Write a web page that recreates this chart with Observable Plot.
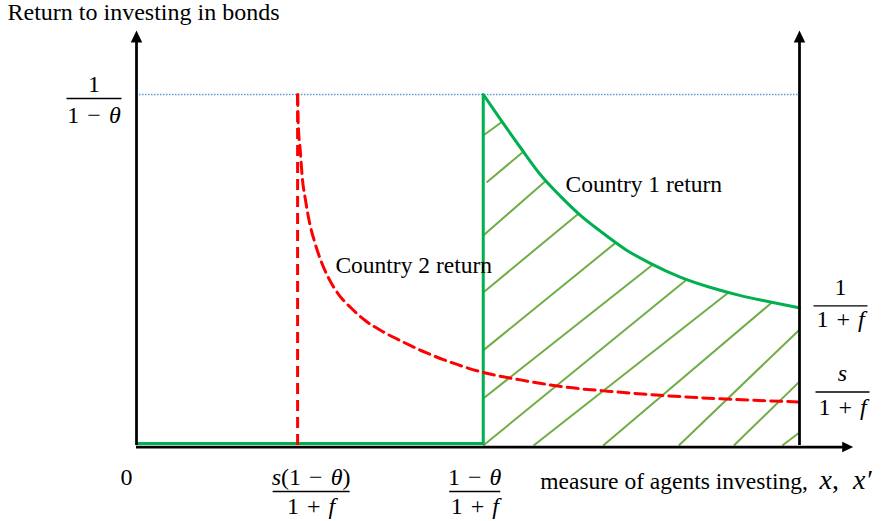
<!DOCTYPE html>
<html>
<head>
<meta charset="utf-8">
<script src="https://cdn.jsdelivr.net/npm/d3@7"></script>
<script src="https://cdn.jsdelivr.net/npm/@observablehq/plot@0.6"></script>
<style>
  html, body { margin: 0; padding: 0; background: #ffffff; }
  #chart svg { display: block; }
</style>
</head>
<body>
<div id="chart"></div>
<script>
// ---------------- DATA (x: 0 = vertical axis, 100 = right axis; y: 0 = horizontal axis, 100 = 1/(1−θ)) ----------------
const topLevel = 100;        // 1/(1−θ)
const country1End = 39.2;    // 1/(1+f)
const country2End = 12.4;    // s/(1+f)
const cutoff2 = 24.3;        // s(1−θ)/(1+f)
const cutoff1 = 52.3;        // (1−θ)/(1+f)
const xMax = 100;            // right-hand axis
const xArrow = 108.1;        // end of horizontal axis arrow
const yArrow = 118.2;        // end of vertical axes arrows

const country1X = [52.3, 54.9, 57.9, 60.9, 64.0, 67.0, 70.0, 73.8, 77.5, 82.1, 86.6, 91.1, 95.6, 100];
const country1Y = [100, 92.9, 84.9, 77.2, 70.9, 65.5, 61.0, 55.8, 51.9, 47.9, 45.0, 42.7, 40.9, 39.2];

const country2X = [24.3, 24.4, 24.7, 25.0, 25.5, 26.1, 26.9, 27.8, 29.0, 30.5, 32.3, 34.5, 37.1, 40.1, 43.6, 47.4, 52.3, 57.9, 64.0, 71.5, 79.0, 88.1, 100];
const country2Y = [100, 91.2, 84.1, 76.4, 69.8, 63.5, 57.8, 52.7, 47.6, 43.0, 39.3, 35.6, 32.5, 29.6, 26.5, 23.7, 20.8, 18.7, 16.8, 15.4, 14.3, 13.3, 12.4];

const hatchX1 = [52.3, 52.8, 52.3, 52.3, 52.3, 52.3, 52.3, 59.9, 70.4, 81.8, 90.1, 97.4];
const hatchY1 = [88.3, 74.9, 59.8, 43.6, 27.1, 13.4, 0, 0, 0, 0, 0, 0];
const hatchX2 = [55.2, 58.2, 61.8, 66.7, 72.3, 77.8, 83.0, 89.3, 95.8, 100, 100, 100];
const hatchY2 = [92.3, 83.5, 75.5, 66.1, 57.8, 51.4, 47.3, 43.6, 40.7, 33.0, 18.2, 3.7];

const titleText = "Return to investing in bonds";
const xAxisText = "measure of agents investing, x, x′";
const country1Label = "Country 1 return";
const country2Label = "Country 2 return";

const leftTickValues = [topLevel];
const leftTickNum = ["1"];
const leftTickDen = ["1\u2004−\u2004θ"];
const rightTickValues = [country1End, country2End];
const rightTickNum = ["1", "s"];
const rightTickDen = ["1\u2004+\u2004f", "1\u2004+\u2004f"];
const bottomTickValues = [cutoff2, cutoff1];
const bottomTickNum = ["s(1\u2004−\u2004θ)", "1\u2004−\u2004θ"];
const bottomTickDen = ["1\u2004+\u2004f", "1\u2004+\u2004f"];
const zeroLabel = "0";

// ---------------- STYLE / LAYOUT ----------------
const GREEN = "#00B050", HATCH = "#70AD47", RED = "#FF0000", BLUE = "#5B9BD5";
const SERIF = "'Liberation Serif', 'Times New Roman', serif";
const MATH = "'Cambria Math', 'Liberation Serif', serif";

const hbar = {draw(ctx, size) { const r = Math.sqrt(size / Math.PI); ctx.moveTo(-r, 0); ctx.lineTo(r, 0); }};
const head = {draw(ctx, size) { const r = Math.sqrt(size / Math.PI);
  ctx.moveTo(0, 0); ctx.lineTo(r * 0.48, r); ctx.lineTo(-r * 0.48, r); ctx.closePath(); }};

// fraction label: anchored at (x, y) data point, offsets in px
function fraction(x, y, num, den, {dx = 0, dy = 0, width = 50, size = 24, numDy = -15, denDy = 15} = {}) {
  const at = {x: () => x, y: () => y};
  return [
    Plot.dot([0], {...at, r: width / 2, symbol: hbar, stroke: "black", strokeWidth: 1.3, fill: "none", dx, dy}),
    Plot.text([num], {...at, text: d => d, dx, dy: dy + numDy, fontFamily: MATH, fontSize: size, fill: "black"}),
    Plot.text([den], {...at, text: d => d, dx, dy: dy + denDy, fontFamily: MATH, fontSize: size, fill: "black"})
  ];
}

const idx = d3.range(hatchX1.length);
const c1 = country1X.map((x, i) => ({x, y: country1Y[i]}));
const c2 = country2X.map((x, i) => ({x, y: country2Y[i]}));

const plot = Plot.plot({
  width: 891,
  height: 521,
  margin: 0,
  style: {background: "#ffffff", overflow: "visible"},
  x: {domain: [0, 100], range: [136, 799], axis: null},
  y: {domain: [0, 100], range: [445, 94], axis: null},
  marks: [
    // dotted level 1/(1−θ)
    Plot.ruleY([topLevel], {x1: 0, x2: xMax, stroke: BLUE, strokeWidth: 1.4, strokeDasharray: "1.5,1.5"}),
    // hatching
    Plot.link(idx, {x1: i => hatchX1[i], y1: i => hatchY1[i], x2: i => hatchX2[i], y2: i => hatchY2[i],
      stroke: HATCH, strokeWidth: 2}),
    // country 1 (green)
    Plot.ruleY([0], {x1: 0, x2: cutoff1, stroke: GREEN, strokeWidth: 3, dy: -2}),
    Plot.ruleX([cutoff1], {y1: 0, y2: topLevel, stroke: GREEN, strokeWidth: 3}),
    Plot.line(c1, {x: "x", y: "y", curve: "monotone-x", stroke: GREEN, strokeWidth: 3}),
    // country 2 (red dashed)
    Plot.ruleX([cutoff2], {y1: 0, y2: topLevel, stroke: RED, strokeWidth: 3, strokeDasharray: "11,6"}),
    Plot.line(c2, {x: "x", y: "y", curve: "monotone-x", stroke: RED, strokeWidth: 3, strokeDasharray: "11,6"}),
    // axes
    Plot.ruleX([0, xMax], {y1: 0, y2: yArrow - 2, stroke: "black", strokeWidth: 2.75}),
    Plot.ruleY([0], {x1: 0, x2: xArrow - 1.2, stroke: "black", strokeWidth: 2.75, dy: 1.5}),
    Plot.dot([0, xMax], {x: d => d, y: () => yArrow, symbol: head, r: 12, fill: "black", stroke: "none"}),
    Plot.dot([0], {x: () => xArrow, y: () => 0, symbol: head, r: 11, fill: "black", stroke: "none", rotate: 90, dy: 1.5}),
    // labels
    Plot.text([titleText], {frameAnchor: "top-left", textAnchor: "start", lineAnchor: "top", dx: 7, dy: 2,
      fontFamily: SERIF, fontSize: 24, fill: "black"}),
    Plot.text([country1Label], {x: () => 64.7, y: () => 74.4, textAnchor: "start", fontFamily: SERIF, fontSize: 23.5, fill: "black"}),
    Plot.text([country2Label], {x: () => 30.0, y: () => 51.3, textAnchor: "start", fontFamily: SERIF, fontSize: 23.5, fill: "black"}),
    Plot.text([xAxisText], {x: () => cutoff1, y: () => 0, textAnchor: "start", dx: 57, dy: 36,
      fontFamily: SERIF, fontSize: 23.5, fill: "black"}),
    Plot.text([zeroLabel], {x: () => 0, y: () => 0, dx: -10, dy: 32, fontFamily: MATH, fontSize: 24, fill: "black"}),
    ...fraction(0, leftTickValues[0], leftTickNum[0], leftTickDen[0], {dx: -42.5, dy: 4, width: 55, numDy: -14, denDy: 16.5}),
    ...fraction(xMax, rightTickValues[0], rightTickNum[0], rightTickDen[0], {dx: 41, dy: -2, width: 54, numDy: -19, denDy: 13}),
    ...fraction(xMax, rightTickValues[1], rightTickNum[1], rightTickDen[1], {dx: 43, dy: -10, width: 54, numDy: -19, denDy: 15}),
    ...fraction(bottomTickValues[0], 0, bottomTickNum[0], bottomTickDen[0], {dx: 13.5, dy: 46, width: 77, numDy: -14, denDy: 14.5}),
    ...fraction(bottomTickValues[1], 0, bottomTickNum[1], bottomTickDen[1], {dx: -8.5, dy: 46, width: 51, numDy: -14, denDy: 14.5})
  ]
});

// italicise variable letters (math style) while keeping text as text
const NS = "http://www.w3.org/2000/svg";
function rebuild(el, parts) {
  el.textContent = "";
  for (const [s, italic, size] of parts) {
    const t = document.createElementNS(NS, "tspan");
    if (italic) t.setAttribute("font-style", "italic");
    if (size) t.setAttribute("font-size", size);
    t.textContent = s;
    el.appendChild(t);
  }
}
function mathParts(s, size) {
  const parts = [];
  for (const ch of s) {
    const it = /[A-Za-zθ′]/.test(ch);
    if (parts.length && parts[parts.length - 1][1] === it) parts[parts.length - 1][0] += ch;
    else parts.push([ch, it, size]);
  }
  return parts;
}
const mathSet = new Set([...leftTickNum, ...leftTickDen, ...rightTickNum, ...rightTickDen, ...bottomTickNum, ...bottomTickDen]);
plot.querySelectorAll("text").forEach(el => {
  const s = el.textContent;
  if (mathSet.has(s)) rebuild(el, mathParts(s));
  else if (s === xAxisText) {
    const k = s.indexOf(",") + 1;
    rebuild(el, [[s.slice(0, k) + "\u2002", false], ...mathParts(s.slice(k + 1).replace(", ", ",\u2002"), 28)]);
  }
});

document.getElementById("chart").appendChild(plot);
</script>
</body>
</html>
